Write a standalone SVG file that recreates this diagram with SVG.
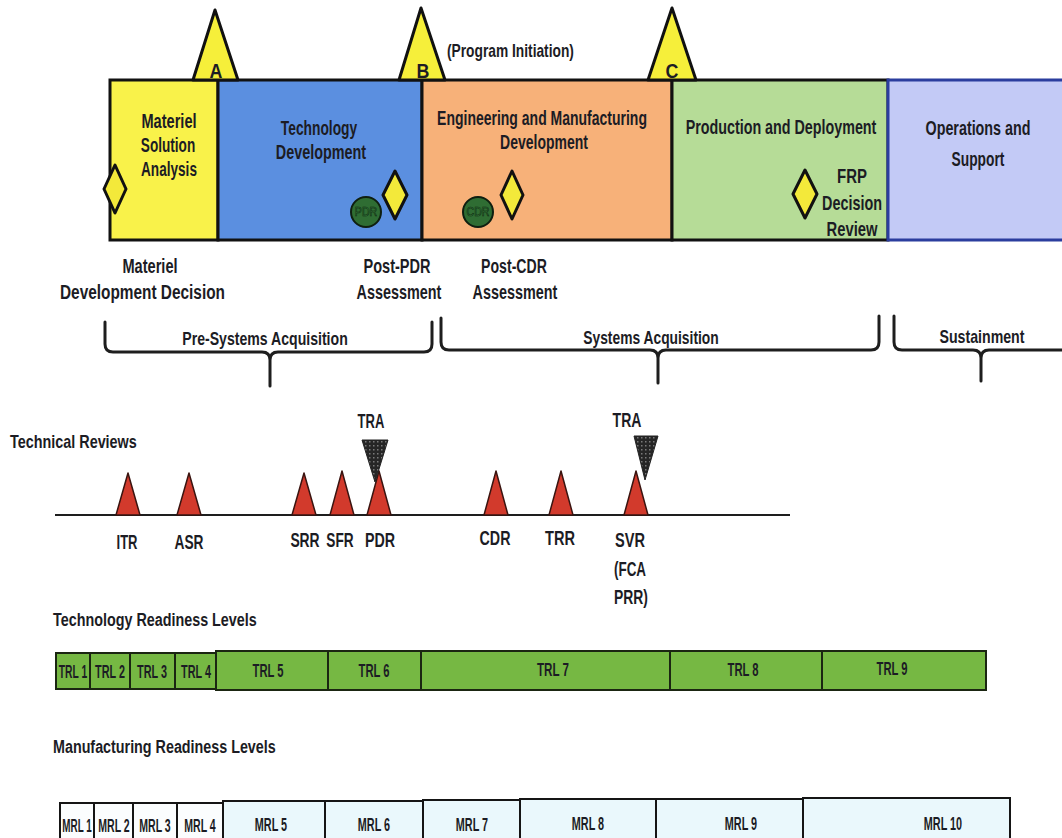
<svg xmlns="http://www.w3.org/2000/svg" width="1062" height="838" viewBox="0 0 1062 838">
  <defs>
    <style>
      .t { font-family: "Liberation Sans", Arial, sans-serif; font-weight: bold; fill: #1c1c24; }
      .c { text-anchor: middle; }
      .f20 { font-size: 20px; }
      .f19 { font-size: 19px; }
      .f21 { font-size: 21px; }
      .f17 { font-size: 17px; }
      .box { stroke: #111; stroke-width: 3; }
      .ms { fill: #f6ef3a; stroke: #111; stroke-width: 3; stroke-linejoin: round; }
      .dia { fill: #f3e93a; stroke: #111; stroke-width: 3; stroke-linejoin: round; }
      .rev { fill: #d23a2c; stroke: #3a1410; stroke-width: 1.5; stroke-linejoin: round; }
      .tra { fill: url(#grid); stroke: #222; stroke-width: 1; }
      .brace { fill: none; stroke: #1e1e1e; stroke-width: 3; stroke-linejoin: round; stroke-linecap: round; }
      .trl { fill: #76b843; stroke: #1b2612; stroke-width: 2; }
      .mrl { fill: #eaf8fc; stroke: #151515; stroke-width: 2; }
      .mrlw { fill: #fbfdfe; stroke: #151515; stroke-width: 2; }
      .circ { fill: #2f6d33; stroke: #0f1f10; stroke-width: 2; }
      .ctext { font-family: "Liberation Sans", Arial, sans-serif; font-size: 12px; fill: #3c8a42; stroke: #0c240e; stroke-width: 0.6; text-anchor: middle; }
    </style>
    <pattern id="grid" width="4" height="4" patternUnits="userSpaceOnUse">
      <rect width="4" height="4" fill="#262626"/>
      <rect x="1" y="1" width="1.5" height="1.5" fill="#7a7a7a"/>
    </pattern>
  </defs>

  <rect width="1062" height="838" fill="#ffffff"/>

  <!-- Acquisition phases (labels use a narrowed bold face via horizontal scaling) -->
  <g id="phase-msa">
    <rect class="box" x="110" y="80" width="108" height="160" fill="#f9f24a"/>
    <text class="t c f20" transform="translate(169 128) scale(0.73 1)">Materiel</text>
    <text class="t c f20" transform="translate(168 152) scale(0.68 1)">Solution</text>
    <text class="t c f20" transform="translate(169 176) scale(0.68 1)">Analysis</text>
  </g>
  <g id="phase-td">
    <rect class="box" x="218" y="80" width="204" height="160" fill="#5b8fe0"/>
    <text class="t c f20" transform="translate(319 135) scale(0.69 1)">Technology</text>
    <text class="t c f20" transform="translate(321 159) scale(0.72 1)">Development</text>
  </g>
  <g id="phase-emd">
    <rect class="box" x="422" y="80" width="250" height="160" fill="#f7b179"/>
    <text class="t c f20" transform="translate(542 125) scale(0.70 1)">Engineering and Manufacturing</text>
    <text class="t c f20" transform="translate(544 149) scale(0.70 1)">Development</text>
  </g>
  <g id="phase-pd">
    <rect class="box" x="672" y="80" width="216" height="160" fill="#b6dc97"/>
    <text class="t c f20" transform="translate(781 134) scale(0.716 1)">Production and Deployment</text>
    <text class="t c f20" transform="translate(852 183) scale(0.75 1)">FRP</text>
    <text class="t c f20" transform="translate(852 210) scale(0.72 1)">Decision</text>
    <text class="t c f20" transform="translate(852 236) scale(0.74 1)">Review</text>
  </g>
  <g id="phase-os">
    <rect x="888" y="80" width="178" height="160" fill="#c3caf6" stroke="#2b3d9e" stroke-width="3"/>
    <text class="t c f20" transform="translate(978 135) scale(0.716 1)">Operations and</text>
    <text class="t c f20" transform="translate(978 166) scale(0.69 1)">Support</text>
  </g>

  <!-- Milestones -->
  <g id="milestone-a">
    <polygon class="ms" points="215,10 238,80 193,80"/>
    <text class="t c f21" transform="translate(216 78) scale(0.85 1)">A</text>
  </g>
  <g id="milestone-b">
    <polygon class="ms" points="421,8 445,80 399,80"/>
    <text class="t c f21" transform="translate(423 78) scale(0.85 1)">B</text>
    <text class="t" font-size="18" transform="translate(447 57) scale(0.765 1)">(Program Initiation)</text>
  </g>
  <g id="milestone-c">
    <polygon class="ms" points="672,8 696,80 648,80"/>
    <text class="t c f21" transform="translate(672 78) scale(0.85 1)">C</text>
  </g>

  <!-- Decision points and design reviews inside the phases -->
  <g id="mdd">
    <polygon class="dia" points="115,165 126,189 115,213 104,189"/>
    <text class="t c f20" transform="translate(150 273) scale(0.73 1)">Materiel</text>
    <text class="t f20" transform="translate(60 299) scale(0.77 1)">Development Decision</text>
  </g>
  <g id="post-pdr">
    <circle class="circ" cx="366" cy="212" r="15"/>
    <text class="ctext" transform="translate(366 216) scale(0.88 1)">PDR</text>
    <polygon class="dia" points="395,171 407,195 395,219 383,195"/>
    <text class="t c f20" transform="translate(397 273) scale(0.727 1)">Post-PDR</text>
    <text class="t c f20" transform="translate(399 299) scale(0.72 1)">Assessment</text>
  </g>
  <g id="post-cdr">
    <circle class="circ" cx="478" cy="212" r="15"/>
    <text class="ctext" transform="translate(478 216) scale(0.88 1)">CDR</text>
    <polygon class="dia" points="512,171 523,195 512,219 501,195"/>
    <text class="t c f20" transform="translate(514 273) scale(0.705 1)">Post-CDR</text>
    <text class="t c f20" transform="translate(515 299) scale(0.72 1)">Assessment</text>
  </g>
  <g id="frp">
    <polygon class="dia" points="805,170 817,194 805,218 793,194"/>
  </g>

  <!-- Acquisition braces -->
  <g id="brace-pre">
    <path class="brace" d="M105,322 V344 Q105,352 113,352 H262 Q270,352 270,360 V386 M270,360 Q270,352 278,352 H424 Q432,352 432,344 V322"/>
    <text class="t c f19" transform="translate(265 345) scale(0.742 1)">Pre-Systems Acquisition</text>
  </g>
  <g id="brace-sys">
    <path class="brace" d="M441,318 V342 Q441,350 449,350 H650 Q658,350 658,358 V383 M658,358 Q658,350 666,350 H871 Q879,350 879,342 V316"/>
    <text class="t c f19" transform="translate(651 344) scale(0.728 1)">Systems Acquisition</text>
  </g>
  <g id="brace-sust">
    <path class="brace" d="M894,316 V342 Q894,350 902,350 H973 Q981,350 981,358 V381 M981,358 Q981,350 989,350 H1064"/>
    <text class="t c f19" transform="translate(982 343) scale(0.746 1)">Sustainment</text>
  </g>

  <!-- Technical reviews timeline -->
  <g id="technical-reviews">
    <text class="t f19" transform="translate(10 448) scale(0.757 1)">Technical Reviews</text>
    <line x1="55" y1="515" x2="790" y2="515" stroke="#1e1e1e" stroke-width="2"/>
  </g>
  <g id="connectors">
    <polygon class="rev" points="128,473 140,515 116,515"/>
    <polygon class="rev" points="189,473 201,515 177,515"/>
    <polygon class="rev" points="304,473 316,515 292,515"/>
    <polygon class="rev" points="342,471 354,515 330,515"/>
    <polygon class="rev" points="379,471 391,515 367,515"/>
    <polygon class="rev" points="496,471 508,515 484,515"/>
    <polygon class="rev" points="561,471 573,515 549,515"/>
    <polygon class="rev" points="636,471 648,515 624,515"/>
  </g>
  <g id="review-labels">
    <text class="t c f21" transform="translate(127 549) scale(0.62 1)">ITR</text>
    <text class="t c f21" transform="translate(189 549) scale(0.655 1)">ASR</text>
    <text class="t c f21" transform="translate(305 547) scale(0.66 1)">SRR</text>
    <text class="t c f21" transform="translate(340 547) scale(0.65 1)">SFR</text>
    <text class="t c f21" transform="translate(380 547) scale(0.68 1)">PDR</text>
    <text class="t c f21" transform="translate(495 545) scale(0.68 1)">CDR</text>
    <text class="t c f21" transform="translate(560 545) scale(0.695 1)">TRR</text>
    <text class="t c f21" transform="translate(630 547) scale(0.695 1)">SVR</text>
    <text class="t c f21" transform="translate(630 576) scale(0.64 1)">(FCA</text>
    <text class="t c f21" transform="translate(631 604) scale(0.663 1)">PRR)</text>
  </g>
  <g id="tra-1">
    <text class="t c f21" transform="translate(371 428) scale(0.62 1)">TRA</text>
    <polygon class="tra" points="362,440 388,440 375,482"/>
  </g>
  <g id="tra-2">
    <text class="t c f21" transform="translate(627 427) scale(0.67 1)">TRA</text>
    <polygon class="tra" points="634,436 658,436 645,480"/>
  </g>

  <!-- Technology Readiness Levels -->
  <g id="trl">
    <text class="t f19" transform="translate(53 626) scale(0.755 1)">Technology Readiness Levels</text>
    <rect class="trl" x="56" y="653" width="34" height="36"/>
    <rect class="trl" x="90" y="653" width="40" height="36"/>
    <rect class="trl" x="130" y="653" width="45" height="36"/>
    <rect class="trl" x="175" y="653" width="41" height="36"/>
    <rect class="trl" x="216" y="651" width="112" height="39"/>
    <rect class="trl" x="328" y="651" width="93" height="39"/>
    <rect class="trl" x="421" y="651" width="249" height="39"/>
    <rect class="trl" x="670" y="651" width="152" height="39"/>
    <rect class="trl" x="822" y="651" width="164" height="39"/>
    <text class="t c f19" transform="translate(73 678) scale(0.54 1)">TRL 1</text>
    <text class="t c f19" transform="translate(110 678) scale(0.57 1)">TRL 2</text>
    <text class="t c f19" transform="translate(152 678) scale(0.57 1)">TRL 3</text>
    <text class="t c f19" transform="translate(196 678) scale(0.57 1)">TRL 4</text>
    <text class="t c f19" transform="translate(268 677) scale(0.59 1)">TRL 5</text>
    <text class="t c f19" transform="translate(374 677) scale(0.59 1)">TRL 6</text>
    <text class="t c f19" transform="translate(553 676) scale(0.61 1)">TRL 7</text>
    <text class="t c f19" transform="translate(743 676) scale(0.59 1)">TRL 8</text>
    <text class="t c f19" transform="translate(892 675) scale(0.59 1)">TRL 9</text>
  </g>

  <!-- Manufacturing Readiness Levels -->
  <g id="mrl">
    <text class="t f19" transform="translate(53 753) scale(0.754 1)">Manufacturing Readiness Levels</text>
    <rect class="mrlw" x="60" y="803" width="34" height="50"/>
    <rect class="mrlw" x="94" y="803" width="39" height="50"/>
    <rect class="mrlw" x="133" y="803" width="44" height="50"/>
    <rect class="mrlw" x="177" y="803" width="46" height="50"/>
    <rect class="mrl" x="223" y="801" width="102" height="50"/>
    <rect class="mrl" x="325" y="801" width="98" height="50"/>
    <rect class="mrl" x="423" y="800" width="97" height="50"/>
    <rect class="mrl" x="520" y="799" width="136" height="50"/>
    <rect class="mrl" x="656" y="799" width="147" height="50"/>
    <rect class="mrl" x="803" y="798" width="207" height="50"/>
    <text class="t c f19" transform="translate(77 832) scale(0.52 1)">MRL 1</text>
    <text class="t c f19" transform="translate(114 832) scale(0.555 1)">MRL 2</text>
    <text class="t c f19" transform="translate(155 832) scale(0.555 1)">MRL 3</text>
    <text class="t c f19" transform="translate(200 832) scale(0.555 1)">MRL 4</text>
    <text class="t c f19" transform="translate(271 831) scale(0.57 1)">MRL 5</text>
    <text class="t c f19" transform="translate(374 831) scale(0.57 1)">MRL 6</text>
    <text class="t c f19" transform="translate(472 831) scale(0.57 1)">MRL 7</text>
    <text class="t c f19" transform="translate(588 830) scale(0.57 1)">MRL 8</text>
    <text class="t c f19" transform="translate(741 830) scale(0.57 1)">MRL 9</text>
    <text class="t c f19" transform="translate(943 830) scale(0.57 1)">MRL 10</text>
  </g>
</svg>
